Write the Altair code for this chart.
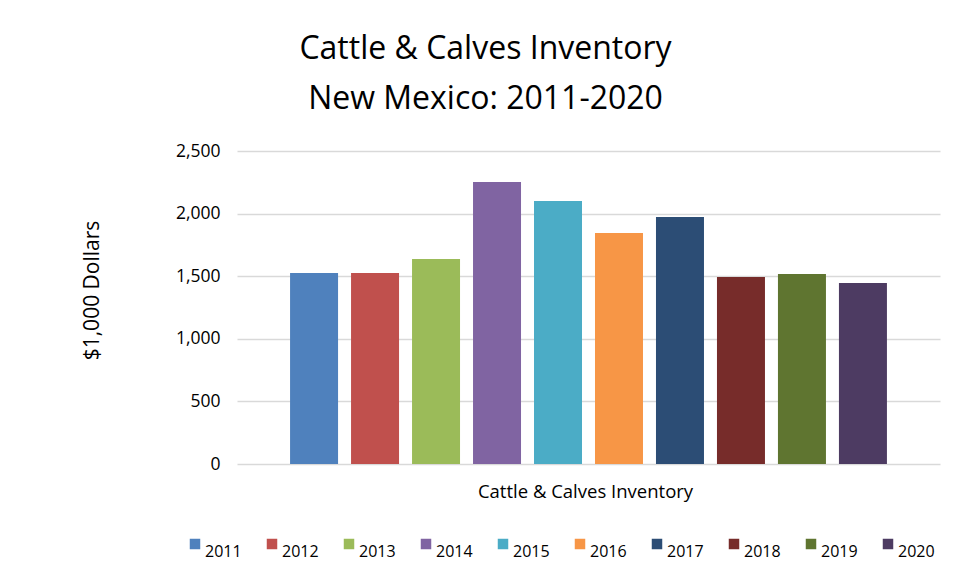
import altair as alt
import pandas as pd

years = ["2011", "2012", "2013", "2014", "2015", "2016", "2017", "2018", "2019", "2020"]
values = [1525, 1525, 1637, 2252, 2100, 1845, 1973, 1494, 1518, 1446]
colors = ["#4F81BD", "#C0504D", "#9BBB59", "#8064A2", "#4BACC6",
          "#F79646", "#2C4D75", "#772C2A", "#5F7530", "#4D3B62"]
y_ticks = [0, 500, 1000, 1500, 2000, 2500]

df = pd.DataFrame({"year": years, "value": values})

FONT = "Open Sans"

chart = alt.Chart(df).mark_bar().encode(
    x=alt.X("year:N", sort=years,
            scale=alt.Scale(paddingInner=0.213, paddingOuter=0.87),
            axis=alt.Axis(title="Cattle & Calves Inventory", labels=False, ticks=False,
                          domain=False, titleFontSize=18.5, titleFont=FONT,
                          titleFontWeight="normal", titleColor="#000000",
                          titlePadding=18, titleX=348)),
    y=alt.Y("value:Q", scale=alt.Scale(domain=[0, 2500], nice=False),
            axis=alt.Axis(title="$1,000 Dollars", values=y_ticks, format=",.0f",
                          ticks=False, domain=False, labelPadding=17,
                          labelFontSize=17.5, labelFont=FONT, labelColor="#000000",
                          gridColor="#d9d9d9", gridWidth=1.5,
                          titleFontSize=21, titleFont=FONT, titleFontWeight="normal",
                          titleColor="#000000", titleX=-145, titleY=139,
                          titleAngle=270, titleAlign="center", titleBaseline="middle")),
    color=alt.Color("year:N", sort=years,
                    scale=alt.Scale(domain=years, range=colors),
                    legend=alt.Legend(title=None, orient="none", legendX=-50, legendY=385,
                                      direction="horizontal", columns=10,
                                      symbolType="square", symbolSize=110,
                                      symbolStrokeWidth=0, labelFontSize=16,
                                      labelFont=FONT, labelColor="#000000",
                                      labelBaseline="top",
                                      labelOffset=2, columnPadding=22)),
).properties(
    width=703,
    height=313,
    title=alt.TitleParams(
        text=["Cattle & Calves Inventory", "New Mexico: 2011-2020"],
        fontSize=32, font=FONT, fontWeight="normal", color="#000000",
        anchor="middle", dx=-103, lineHeight=50, offset=26,
    ),
    autosize=alt.AutoSizeParams(type="none"),
    padding={"left": 229, "top": 143, "right": 10, "bottom": 100},
).configure_view(stroke=None)

chart.save("out.html", embed_options={"renderer": "svg", "actions": False})
